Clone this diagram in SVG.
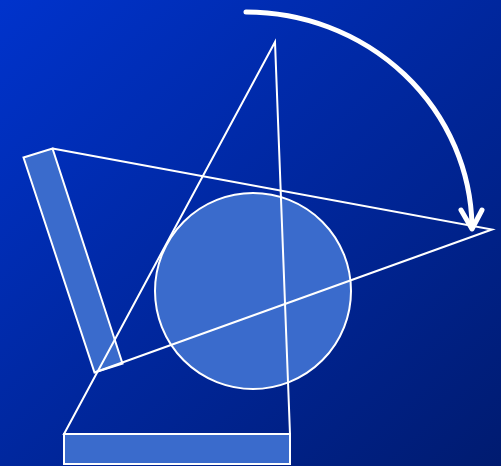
<svg xmlns="http://www.w3.org/2000/svg" width="501" height="466" viewBox="0 0 501 466">
  <defs>
    <linearGradient id="bg" x1="0" y1="0" x2="1" y2="1">
      <stop offset="0" stop-color="#0033cc"/>
      <stop offset="1" stop-color="#001b70"/>
    </linearGradient>
    <style>
      .shape { fill: #3a6bcc; stroke: #ffffff; stroke-width: 2; }
      .line { fill: none; stroke: #ffffff; stroke-width: 2; stroke-linejoin: miter; }
      .arrow { fill: none; stroke: #ffffff; stroke-width: 5; stroke-linecap: round; stroke-linejoin: round; }
    </style>
  </defs>
  <rect x="0" y="0" width="501" height="466" fill="url(#bg)"/>
  <g id="bar">
    <polygon class="shape" points="23.5,157.5 52.5,148.5 122.5,363.5 94.5,372.5"/>
  </g>
  <g id="base">
    <rect class="shape" x="64" y="434" width="226" height="30"/>
  </g>
  <g id="circle">
    <circle class="shape" cx="253" cy="291" r="98"/>
  </g>
  <g id="connectors">
    <polygon class="line" points="275,42 64,434 290,434"/>
    <polyline class="line" points="52.5,148.5 492,229.5 94.5,372.5"/>
    <path class="arrow" d="M246,12 A226,218 0 0 1 472,226"/>
    <polyline class="arrow" points="461,210 472,229 482,210"/>
  </g>
</svg>
